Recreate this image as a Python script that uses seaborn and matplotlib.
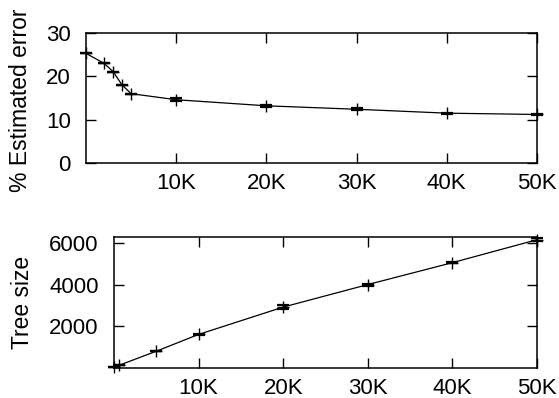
import matplotlib
matplotlib.use("Agg")
import matplotlib.pyplot as plt
import seaborn as sns
import pandas as pd
import numpy as np

# Top panel: % estimated error
err_x = [0, 2000, 3000, 4000, 5000, 10000, 20000, 30000, 40000, 50000]
err_y = [25.3, 23.0, 21.1, 18.0, 16.0, 14.6, 13.2, 12.4, 11.5, 11.2]
err_e = [0.0, 0.0, 0.0, 0.0, 0.0, 0.3, 0.2, 0.2, 0.15, 0.15]

# Bottom panel: tree size
size_x = [0, 600, 5000, 10000, 20000, 30000, 40000, 50000]
size_y = [40, 130, 805, 1610, 2920, 4000, 5050, 6150]
size_e = [0, 0, 0, 30, 90, 50, 25, 60]

xticks = [10000, 20000, 30000, 40000, 50000]
xticklabels = ["10K", "20K", "30K", "40K", "50K"]
top_yticks = [0, 10, 20, 30]
bot_yticks = [2000, 4000, 6000]

sns.set_theme(style="white")
plt.rcParams["font.family"] = ["Liberation Sans", "DejaVu Sans"]

fig = plt.figure(figsize=(5.59, 3.98), dpi=100)
ax1 = fig.add_axes([86/559, 1-163/398, 451/559, 130/398])
ax2 = fig.add_axes([114/559, 1-368/398, 423/559, 131/398])

df1 = pd.DataFrame({"x": err_x, "y": err_y})
df2 = pd.DataFrame({"x": size_x, "y": size_y})

for ax, df, e in [(ax1, df1, err_e), (ax2, df2, size_e)]:
    sns.lineplot(data=df, x="x", y="y", ax=ax, color="black", linewidth=0.9,
                 marker="+", markersize=9, markeredgewidth=1.0,
                 markeredgecolor="black", clip_on=False)
    ax.errorbar(df["x"], df["y"], yerr=e, fmt="none", ecolor="black",
                elinewidth=1.0, capsize=4, capthick=1.6, clip_on=False)
    ax.set_xlim(0, 50000)
    ax.set_xticks(xticks)
    ax.set_xticklabels(xticklabels)
    ax.set_xlabel("")
    for s in ax.spines.values():
        s.set_visible(True)
        s.set_color("black")
        s.set_linewidth(1.1)
    ax.tick_params(axis="both", which="both", direction="in", length=7,
                   width=1.0, color="black", labelsize=16, labelcolor="black",
                   top=True, right=True, bottom=True, left=True)
    ax.tick_params(axis="x", pad=7)
    ax.tick_params(axis="y", pad=11)

ax1.set_ylim(0, 30)
ax1.set_yticks(top_yticks)
ax1.set_yticklabels([str(v) for v in top_yticks])
ax1.set_ylabel("% Estimated error", fontsize=16.5, color="black")
ax1.yaxis.set_label_coords((32 - 86) / 451, 0.48)

ax2.set_ylim(0, 6280)
ax2.set_yticks(bot_yticks)
ax2.set_yticklabels([str(v) for v in bot_yticks])
ax2.set_ylabel("Tree size", fontsize=16.5, color="black")
ax2.yaxis.set_label_coords((34 - 114) / 423, 0.5)

fig.savefig("out.png", dpi=100, facecolor="white")
